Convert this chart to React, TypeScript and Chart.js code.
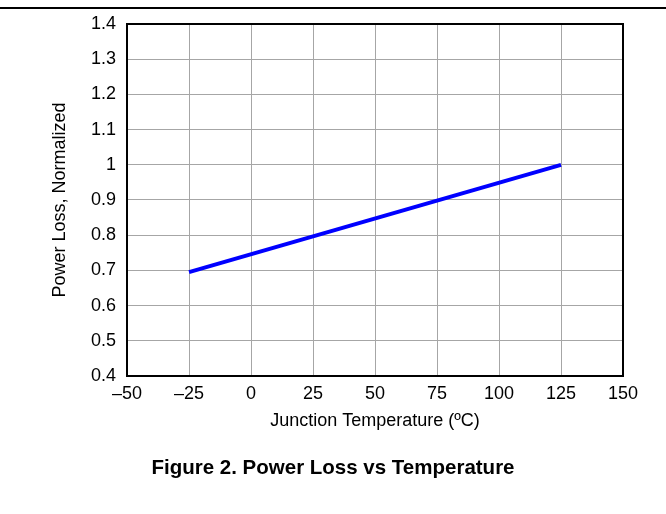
import React, { useEffect, useRef } from "react";
import { Chart, registerables } from "chart.js";

Chart.register(...registerables);

const temperatures = [-25, 125];
const powerLoss = [0.695, 1.0];
const xTickValues = [-50, -25, 0, 25, 50, 75, 100, 125, 150];
const xTickLabels = ["–50", "–25", "0", "25", "50", "75", "100", "125", "150"];
const yTickValues = [0.4, 0.5, 0.6, 0.7, 0.8, 0.9, 1.0, 1.1, 1.2, 1.3, 1.4];
const yTickLabels = ["0.4", "0.5", "0.6", "0.7", "0.8", "0.9", "1", "1.1", "1.2", "1.3", "1.4"];
const xTitle = "Junction Temperature (ºC)";
const yTitle = "Power Loss, Normalized";
const figureTitle = "Figure 2. Power Loss vs Temperature";

const FONT = "'Liberation Sans', Arial, sans-serif";
const AXIS_FONT = 18;

export default function App() {
  const ref = useRef<HTMLCanvasElement | null>(null);

  useEffect(() => {
    if (!ref.current) return;
    const borderPlugin = {
      id: "frame",
      afterDraw(chart: any) {
        const { ctx, chartArea: a } = chart;
        ctx.save();
        ctx.strokeStyle = "#000";
        ctx.lineWidth = 2;
        ctx.strokeRect(a.left, a.top, a.right - a.left, a.bottom - a.top);
        ctx.restore();
      },
    };
    const chart = new Chart(ref.current, {
      type: "scatter",
      data: {
        datasets: [
          {
            data: temperatures.map((t, i) => ({ x: t, y: powerLoss[i] })),
            showLine: true,
            borderColor: "#0000ff",
            backgroundColor: "#0000ff",
            borderWidth: 4,
            pointRadius: 0,
            borderCapStyle: "butt",
          },
        ],
      },
      options: {
        responsive: false,
        animation: false,
        layout: { padding: { left: 0, right: 43, top: 24, bottom: 82 } },
        plugins: { legend: { display: false }, tooltip: { enabled: false } },
        scales: {
          x: {
            type: "linear",
            min: -50,
            max: 150,
            afterBuildTicks: (s: any) => {
              s.ticks = xTickValues.map((v) => ({ value: v }));
            },
            afterFit: (s: any) => {
              s.height = 56;
            },
            ticks: {
              color: "#000",
              font: { family: FONT, size: AXIS_FONT },
              padding: 7,
              maxRotation: 0,
              autoSkip: false,
              callback: (_v: any, i: number) => xTickLabels[i],
            },
            grid: { color: "#a6a6a6", lineWidth: 1, drawTicks: false },
            border: { color: "#000", width: 2 },
            title: {
              display: true,
              text: xTitle,
              color: "#000",
              font: { family: FONT, size: AXIS_FONT },
              padding: 0,
            },
          },
          y: {
            type: "linear",
            min: 0.4,
            max: 1.4,
            afterBuildTicks: (s: any) => {
              s.ticks = yTickValues.map((v) => ({ value: v }));
            },
            afterFit: (s: any) => {
              s.width = 127;
            },
            ticks: {
              color: "#000",
              font: { family: FONT, size: AXIS_FONT },
              padding: 11,
              autoSkip: false,
              callback: (_v: any, i: number) => yTickLabels[i],
            },
            grid: { color: "#a6a6a6", lineWidth: 1, drawTicks: false },
            border: { color: "#000", width: 2 },
            title: {
              display: true,
              text: yTitle,
              color: "#000",
              font: { family: FONT, size: AXIS_FONT },
              padding: { top: 49, bottom: 0 },
            },
          },
        },
      },
      plugins: [borderPlugin],
    } as any);
    return () => chart.destroy();
  }, []);

  return (
    <div style={{ position: "fixed", left: 0, top: 0, width: 666, height: 514, background: "#fff" }}>
      <div style={{ position: "absolute", left: 0, top: 7, width: 666, height: 1.5, background: "#000" }} />
      <canvas ref={ref} width={666} height={514} style={{ position: "absolute", left: 0, top: 0 }} />
      <div
        style={{
          position: "absolute",
          left: 0,
          width: 666,
          top: 455,
          textAlign: "center",
          fontFamily: FONT,
          fontWeight: "bold",
          fontSize: 20.5,
          color: "#000",
        }}
      >
        {figureTitle}
      </div>
    </div>
  );
}
